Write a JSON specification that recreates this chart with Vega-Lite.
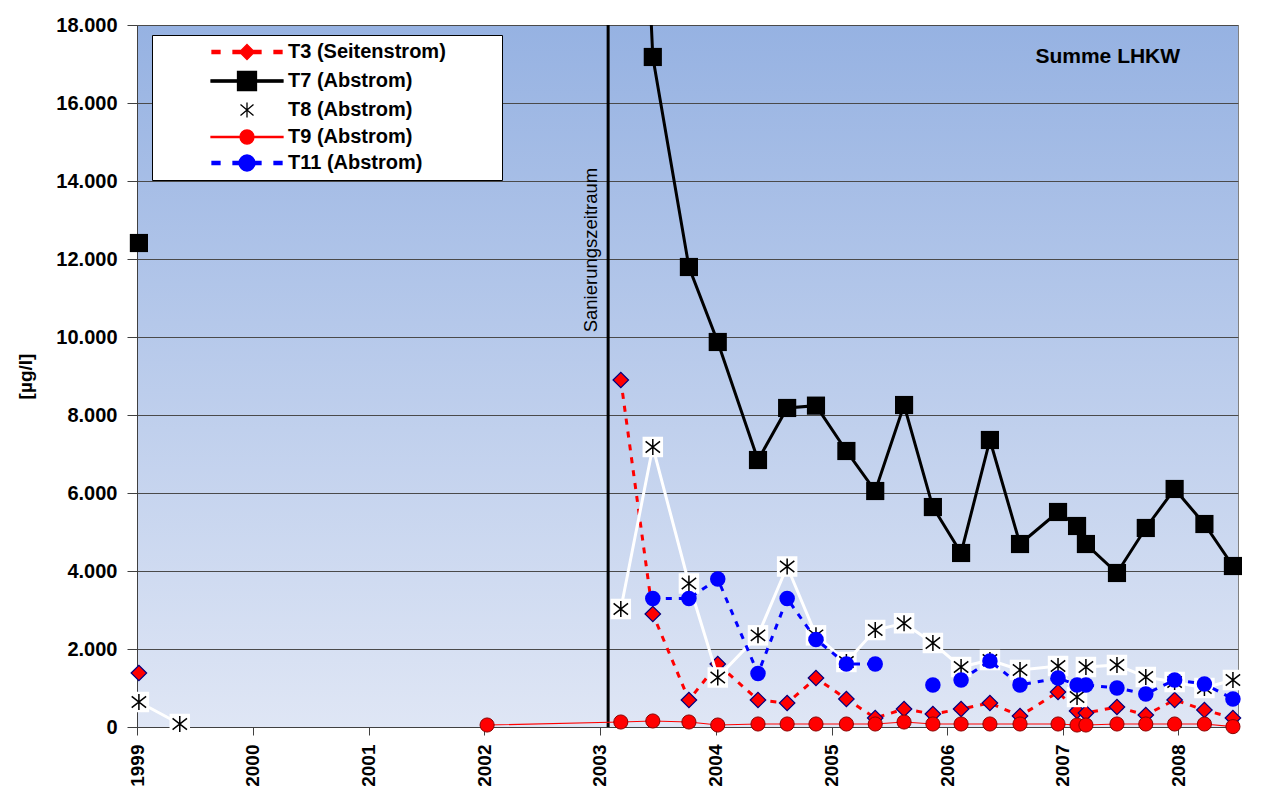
{
  "$schema": "https://vega.github.io/schema/vega-lite/v6.json",
  "width": 1101,
  "height": 702,
  "autosize": {"type": "none"},
  "padding": {"left": 137, "top": 25, "right": 30, "bottom": 62},
  "background": "white",
  "config": {
    "font": "Liberation Sans",
    "locale": {"number": {"decimal": ",", "thousands": ".", "grouping": [3], "currency": ["", " €"]}},
    "view": {
      "stroke": "#808080",
      "fill": {"gradient": "linear", "x1": 0, "y1": 0, "x2": 0, "y2": 1,
        "stops": [{"offset": 0, "color": "#96B2E2"}, {"offset": 1, "color": "#DFE6F5"}]}
    }
  },
  "data": {"values": [
    {"s": "T3 (Seitenstrom)", "d": "1999-01-07", "v": 1385},
    {"s": "T3 (Seitenstrom)", "d": "2002-01-10", "v": null},
    {"s": "T3 (Seitenstrom)", "d": "2003-03-08", "v": 8897},
    {"s": "T3 (Seitenstrom)", "d": "2003-06-17", "v": 2897},
    {"s": "T3 (Seitenstrom)", "d": "2003-10-09", "v": 692},
    {"s": "T3 (Seitenstrom)", "d": "2004-01-08", "v": 1615},
    {"s": "T3 (Seitenstrom)", "d": "2004-05-14", "v": 692},
    {"s": "T3 (Seitenstrom)", "d": "2004-08-14", "v": 615},
    {"s": "T3 (Seitenstrom)", "d": "2004-11-13", "v": 1256},
    {"s": "T3 (Seitenstrom)", "d": "2005-02-17", "v": 718},
    {"s": "T3 (Seitenstrom)", "d": "2005-05-19", "v": 231},
    {"s": "T3 (Seitenstrom)", "d": "2005-08-18", "v": 462},
    {"s": "T3 (Seitenstrom)", "d": "2005-11-17", "v": 333},
    {"s": "T3 (Seitenstrom)", "d": "2006-02-14", "v": 462},
    {"s": "T3 (Seitenstrom)", "d": "2006-05-16", "v": 615},
    {"s": "T3 (Seitenstrom)", "d": "2006-08-19", "v": 282},
    {"s": "T3 (Seitenstrom)", "d": "2006-12-17", "v": 897},
    {"s": "T3 (Seitenstrom)", "d": "2007-02-15", "v": 410},
    {"s": "T3 (Seitenstrom)", "d": "2007-03-15", "v": 359},
    {"s": "T3 (Seitenstrom)", "d": "2007-06-21", "v": 513},
    {"s": "T3 (Seitenstrom)", "d": "2007-09-20", "v": 308},
    {"s": "T3 (Seitenstrom)", "d": "2007-12-20", "v": 692},
    {"s": "T3 (Seitenstrom)", "d": "2008-03-23", "v": 436},
    {"s": "T3 (Seitenstrom)", "d": "2008-06-21", "v": 231},

    {"s": "T7 (Abstrom)", "d": "1999-01-07", "v": 12410},
    {"s": "T7 (Abstrom)", "d": "2002-01-10", "v": null},
    {"s": "T7 (Abstrom)", "d": "2003-03-08", "v": 35000},
    {"s": "T7 (Abstrom)", "d": "2003-06-17", "v": 17180},
    {"s": "T7 (Abstrom)", "d": "2003-10-09", "v": 11795},
    {"s": "T7 (Abstrom)", "d": "2004-01-08", "v": 9872},
    {"s": "T7 (Abstrom)", "d": "2004-05-14", "v": 6846},
    {"s": "T7 (Abstrom)", "d": "2004-08-14", "v": 8180},
    {"s": "T7 (Abstrom)", "d": "2004-11-13", "v": 8240},
    {"s": "T7 (Abstrom)", "d": "2005-02-17", "v": 7077},
    {"s": "T7 (Abstrom)", "d": "2005-05-19", "v": 6051},
    {"s": "T7 (Abstrom)", "d": "2005-08-18", "v": 8256},
    {"s": "T7 (Abstrom)", "d": "2005-11-17", "v": 5640},
    {"s": "T7 (Abstrom)", "d": "2006-02-14", "v": 4462},
    {"s": "T7 (Abstrom)", "d": "2006-05-16", "v": 7359},
    {"s": "T7 (Abstrom)", "d": "2006-08-19", "v": 4692},
    {"s": "T7 (Abstrom)", "d": "2006-12-17", "v": 5513},
    {"s": "T7 (Abstrom)", "d": "2007-02-15", "v": 5154},
    {"s": "T7 (Abstrom)", "d": "2007-03-15", "v": 4692},
    {"s": "T7 (Abstrom)", "d": "2007-06-21", "v": 3949},
    {"s": "T7 (Abstrom)", "d": "2007-09-20", "v": 5103},
    {"s": "T7 (Abstrom)", "d": "2007-12-20", "v": 6103},
    {"s": "T7 (Abstrom)", "d": "2008-03-23", "v": 5205},
    {"s": "T7 (Abstrom)", "d": "2008-06-21", "v": 4128},

    {"s": "T8 (Abstrom)", "d": "1999-01-07", "v": 641},
    {"s": "T8 (Abstrom)", "d": "1999-05-16", "v": 77},
    {"s": "T8 (Abstrom)", "d": "2002-01-10", "v": null},
    {"s": "T8 (Abstrom)", "d": "2003-03-08", "v": 3026},
    {"s": "T8 (Abstrom)", "d": "2003-06-17", "v": 7180},
    {"s": "T8 (Abstrom)", "d": "2003-10-09", "v": 3680},
    {"s": "T8 (Abstrom)", "d": "2004-01-08", "v": 1270},
    {"s": "T8 (Abstrom)", "d": "2004-05-14", "v": 2350},
    {"s": "T8 (Abstrom)", "d": "2004-08-14", "v": 4115},
    {"s": "T8 (Abstrom)", "d": "2004-11-13", "v": 2350},
    {"s": "T8 (Abstrom)", "d": "2005-02-17", "v": 1667},
    {"s": "T8 (Abstrom)", "d": "2005-05-19", "v": 2487},
    {"s": "T8 (Abstrom)", "d": "2005-08-18", "v": 2660},
    {"s": "T8 (Abstrom)", "d": "2005-11-17", "v": 2154},
    {"s": "T8 (Abstrom)", "d": "2006-02-14", "v": 1538},
    {"s": "T8 (Abstrom)", "d": "2006-05-16", "v": 1718},
    {"s": "T8 (Abstrom)", "d": "2006-08-19", "v": 1462},
    {"s": "T8 (Abstrom)", "d": "2006-12-17", "v": 1564},
    {"s": "T8 (Abstrom)", "d": "2007-02-15", "v": 770},
    {"s": "T8 (Abstrom)", "d": "2007-03-15", "v": 1538},
    {"s": "T8 (Abstrom)", "d": "2007-06-21", "v": 1590},
    {"s": "T8 (Abstrom)", "d": "2007-09-20", "v": 1282},
    {"s": "T8 (Abstrom)", "d": "2007-12-20", "v": 1154},
    {"s": "T8 (Abstrom)", "d": "2008-03-23", "v": 1000},
    {"s": "T8 (Abstrom)", "d": "2008-06-21", "v": 1205},

    {"s": "T9 (Abstrom)", "d": "2002-01-10", "v": 51},
    {"s": "T9 (Abstrom)", "d": "2003-03-08", "v": 128},
    {"s": "T9 (Abstrom)", "d": "2003-06-17", "v": 154},
    {"s": "T9 (Abstrom)", "d": "2003-10-09", "v": 128},
    {"s": "T9 (Abstrom)", "d": "2004-01-08", "v": 51},
    {"s": "T9 (Abstrom)", "d": "2004-05-14", "v": 77},
    {"s": "T9 (Abstrom)", "d": "2004-08-14", "v": 77},
    {"s": "T9 (Abstrom)", "d": "2004-11-13", "v": 77},
    {"s": "T9 (Abstrom)", "d": "2005-02-17", "v": 77},
    {"s": "T9 (Abstrom)", "d": "2005-05-19", "v": 77},
    {"s": "T9 (Abstrom)", "d": "2005-08-18", "v": 128},
    {"s": "T9 (Abstrom)", "d": "2005-11-17", "v": 77},
    {"s": "T9 (Abstrom)", "d": "2006-02-14", "v": 77},
    {"s": "T9 (Abstrom)", "d": "2006-05-16", "v": 77},
    {"s": "T9 (Abstrom)", "d": "2006-08-19", "v": 77},
    {"s": "T9 (Abstrom)", "d": "2006-12-17", "v": 77},
    {"s": "T9 (Abstrom)", "d": "2007-02-15", "v": 51},
    {"s": "T9 (Abstrom)", "d": "2007-03-15", "v": 51},
    {"s": "T9 (Abstrom)", "d": "2007-06-21", "v": 77},
    {"s": "T9 (Abstrom)", "d": "2007-09-20", "v": 77},
    {"s": "T9 (Abstrom)", "d": "2007-12-20", "v": 77},
    {"s": "T9 (Abstrom)", "d": "2008-03-23", "v": 77},
    {"s": "T9 (Abstrom)", "d": "2008-06-21", "v": 10},

    {"s": "T11 (Abstrom)", "d": "2003-06-17", "v": 3295},
    {"s": "T11 (Abstrom)", "d": "2003-10-09", "v": 3295},
    {"s": "T11 (Abstrom)", "d": "2004-01-08", "v": 3795},
    {"s": "T11 (Abstrom)", "d": "2004-05-14", "v": 1370},
    {"s": "T11 (Abstrom)", "d": "2004-08-14", "v": 3295},
    {"s": "T11 (Abstrom)", "d": "2004-11-13", "v": 2245},
    {"s": "T11 (Abstrom)", "d": "2005-02-17", "v": 1615},
    {"s": "T11 (Abstrom)", "d": "2005-05-19", "v": 1615},
    {"s": "T11 (Abstrom)", "d": "2005-08-18", "v": null},
    {"s": "T11 (Abstrom)", "d": "2005-11-17", "v": 1077},
    {"s": "T11 (Abstrom)", "d": "2006-01-01", "v": null},
    {"s": "T11 (Abstrom)", "d": "2006-02-14", "v": 1205},
    {"s": "T11 (Abstrom)", "d": "2006-05-16", "v": 1692},
    {"s": "T11 (Abstrom)", "d": "2006-08-19", "v": 1077},
    {"s": "T11 (Abstrom)", "d": "2006-12-17", "v": 1256},
    {"s": "T11 (Abstrom)", "d": "2007-02-15", "v": 1077},
    {"s": "T11 (Abstrom)", "d": "2007-03-15", "v": 1077},
    {"s": "T11 (Abstrom)", "d": "2007-06-21", "v": 1000},
    {"s": "T11 (Abstrom)", "d": "2007-09-20", "v": 846},
    {"s": "T11 (Abstrom)", "d": "2007-12-20", "v": 1205},
    {"s": "T11 (Abstrom)", "d": "2008-03-23", "v": 1103},
    {"s": "T11 (Abstrom)", "d": "2008-06-21", "v": 718}
  ]},
  "encoding": {
    "x": {
      "field": "d", "type": "temporal",
      "scale": {"type": "utc", "domain": [{"year": 1999, "month": 1, "date": 1, "utc": true}, {"year": 2008, "month": 7, "date": 7, "utc": true}]},
      "axis": {
        "title": null, "grid": false, "format": "%Y",
        "values": [
          {"year": 1999, "month": 1, "date": 1, "utc": true}, {"year": 2000, "month": 1, "date": 1, "utc": true},
          {"year": 2001, "month": 1, "date": 1, "utc": true}, {"year": 2002, "month": 1, "date": 1, "utc": true},
          {"year": 2003, "month": 1, "date": 1, "utc": true}, {"year": 2004, "month": 1, "date": 1, "utc": true},
          {"year": 2005, "month": 1, "date": 1, "utc": true}, {"year": 2006, "month": 1, "date": 1, "utc": true},
          {"year": 2007, "month": 1, "date": 1, "utc": true}, {"year": 2008, "month": 1, "date": 1, "utc": true}
        ],
        "labelAngle": 270, "labelFontSize": 19, "labelFontWeight": "bold", "labelColor": "black",
        "labelFont": "Liberation Sans", "labelPadding": 9, "labelOverlap": false, "labelFlush": false, "labelBound": false,
        "tickSize": 8, "tickColor": "#404040", "domainColor": "#404040"
      }
    },
    "y": {
      "field": "v", "type": "quantitative",
      "scale": {"domain": [0, 18000], "nice": false, "zero": true},
      "axis": {
        "title": "[µg/l]", "titleFontSize": 19, "titleFontWeight": "bold", "titleColor": "black", "titleFont": "Liberation Sans",
        "titleX": -112, "titleY": 351, "titleAngle": 270, "titleBaseline": "middle", "titleAlign": "center",
        "values": [0, 2000, 4000, 6000, 8000, 10000, 12000, 14000, 16000, 18000],
        "format": ",.0f", "grid": true, "gridColor": "#4a4a4a", "gridWidth": 1,
        "tickSize": 10, "tickColor": "#404040", "domainColor": "#404040",
        "labelFontSize": 20, "labelFontWeight": "bold", "labelColor": "black", "labelFont": "Liberation Sans", "labelPadding": 10
      }
    }
  },
  "layer": [
    {
      "data": {"values": [{"d": "2003-01-27", "v": 0, "v2": 18000}]},
      "mark": {"type": "rule", "color": "black", "strokeWidth": 3},
      "encoding": {
        "y2": {"field": "v2"}
      }
    },
    {
      "data": {"values": [{"d": "2003-01-04", "v": 12230, "t": "Sanierungszeitraum"}]},
      "mark": {"type": "text", "angle": 270, "align": "center", "baseline": "bottom", "fontSize": 18.5, "font": "Liberation Sans", "color": "black"},
      "encoding": {
        "text": {"field": "t"}
      }
    },
    {
      "data": {"values": [{"d": "2007-05-23", "v": 17180, "t": "Summe LHKW"}]},
      "mark": {"type": "text", "align": "center", "baseline": "middle", "fontSize": 21, "fontWeight": "bold", "font": "Liberation Sans", "color": "black"},
      "encoding": {
        "text": {"field": "t"}
      }
    },
    {
      "transform": [{"filter": "datum.s === 'T3 (Seitenstrom)'"}],
      "mark": {"type": "line", "color": "#FF0000", "strokeWidth": 3, "strokeDash": [6, 7]}
    },
    {
      "transform": [{"filter": "datum.s === 'T3 (Seitenstrom)'"}],
      "mark": {"type": "point", "shape": "diamond", "filled": true, "fill": "#FF0000", "stroke": "#000080", "strokeWidth": 1.2, "size": 240, "opacity": 1}
    },
    {
      "transform": [{"filter": "datum.s === 'T7 (Abstrom)'"}],
      "mark": {"type": "line", "color": "black", "strokeWidth": 3, "clip": true}
    },
    {
      "transform": [{"filter": "datum.s === 'T7 (Abstrom)' && datum.v <= 18000"}],
      "mark": {"type": "point", "shape": "square", "filled": true, "color": "black", "size": 330, "opacity": 1}
    },
    {
      "transform": [{"filter": "datum.s === 'T8 (Abstrom)'"}],
      "mark": {"type": "line", "color": "white", "strokeWidth": 3}
    },
    {
      "transform": [{"filter": "datum.s === 'T8 (Abstrom)'"}],
      "mark": {"type": "point", "shape": "square", "filled": true, "color": "white", "size": 420, "opacity": 1}
    },
    {
      "transform": [{"filter": "datum.s === 'T8 (Abstrom)'"}],
      "mark": {"type": "point", "shape": "M0,-1L0,1M-0.9,-0.7L0.9,0.7M-0.9,0.7L0.9,-0.7", "filled": false, "stroke": "black", "strokeWidth": 1.5, "size": 256, "opacity": 1}
    },
    {
      "transform": [{"filter": "datum.s === 'T9 (Abstrom)'"}],
      "mark": {"type": "line", "strokeWidth": 1.2},
      "encoding": {
        "color": {
          "field": "s", "type": "nominal",
          "scale": {"domain": ["T3 (Seitenstrom)", "T7 (Abstrom)", "T8 (Abstrom)", "T9 (Abstrom)", "T11 (Abstrom)"], "range": ["#FF0000", "black", "black", "#FF0000", "#0000FF"]},
          "legend": {
            "orient": "none", "legendX": 15, "legendY": 10, "title": null,
            "fillColor": "white", "strokeColor": "black", "padding": 6,
            "labelFont": "Liberation Sans", "labelFontSize": 20, "labelFontWeight": "bold", "labelColor": "black",
            "labelLimit": 500,
            "symbolSize": 400, "symbolOffset": 78, "labelOffset": 30, "rowPadding": 5,
            "labelExpr": "datum.label + '\u00a0\u00a0\u00a0\u00a0\u00a0\u00a0\u00a0\u00a0\u00a0\u200b'",
            "encode": {
              "symbols": {
                "update": {
                  "shape": {"signal": "datum.value === 'T3 (Seitenstrom)' ? 'M-3.5,-0.15L-2.7,-0.15L-2.7,0.15L-3.5,0.15Z M-1.4,-0.15L-0.6,-0.15L-0.6,0.15L-1.4,0.15Z M0.6,-0.15L1.4,-0.15L1.4,0.15L0.6,0.15Z M2.7,-0.15L3.5,-0.15L3.5,0.15L2.7,0.15Z M0,-0.75L0.75,0L0,0.75L-0.75,0Z' : datum.value === 'T7 (Abstrom)' ? 'M-3.6,-0.12L3.6,-0.12L3.6,0.12L-3.6,0.12Z M-0.95,-0.95L0.95,-0.95L0.95,0.95L-0.95,0.95Z' : datum.value === 'T8 (Abstrom)' ? 'M0,-0.75L0,0.75M-0.65,-0.55L0.65,0.55M-0.65,0.55L0.65,-0.55' : datum.value === 'T9 (Abstrom)' ? 'M-3.6,-0.05L3.6,-0.05L3.6,0.05L-3.6,0.05Z M-0.7,0A0.7,0.7,0,1,1,0.7,0A0.7,0.7,0,1,1,-0.7,0Z' : 'M-3.5,-0.15L-2.7,-0.15L-2.7,0.15L-3.5,0.15Z M-1.4,-0.15L-0.6,-0.15L-0.6,0.15L-1.4,0.15Z M0.6,-0.15L1.4,-0.15L1.4,0.15L0.6,0.15Z M2.7,-0.15L3.5,-0.15L3.5,0.15L2.7,0.15Z M-0.8,0A0.8,0.8,0,1,1,0.8,0A0.8,0.8,0,1,1,-0.8,0Z'"},
                  "fill": {"signal": "datum.value === 'T8 (Abstrom)' ? 'transparent' : datum.value === 'T7 (Abstrom)' ? 'black' : datum.value === 'T11 (Abstrom)' ? '#0000FF' : '#FF0000'"},
                  "stroke": {"signal": "datum.value === 'T8 (Abstrom)' ? 'black' : 'transparent'"},
                  "strokeWidth": {"value": 1.3},
                  "size": {"value": 400},
                  "opacity": {"value": 1}
                }
              }
            }
          }
        }
      }
    },
    {
      "transform": [{"filter": "datum.s === 'T9 (Abstrom)'"}],
      "mark": {"type": "point", "shape": "circle", "filled": true, "fill": "#FF0000", "stroke": "#8B0000", "strokeWidth": 1, "size": 200, "opacity": 1}
    },
    {
      "transform": [{"filter": "datum.s === 'T11 (Abstrom)'"}],
      "mark": {"type": "line", "color": "#0000FF", "strokeWidth": 3, "strokeDash": [6, 7]}
    },
    {
      "transform": [{"filter": "datum.s === 'T11 (Abstrom)'"}],
      "mark": {"type": "point", "shape": "circle", "filled": true, "color": "#0000FF", "size": 240, "opacity": 1}
    }
  ]
}
